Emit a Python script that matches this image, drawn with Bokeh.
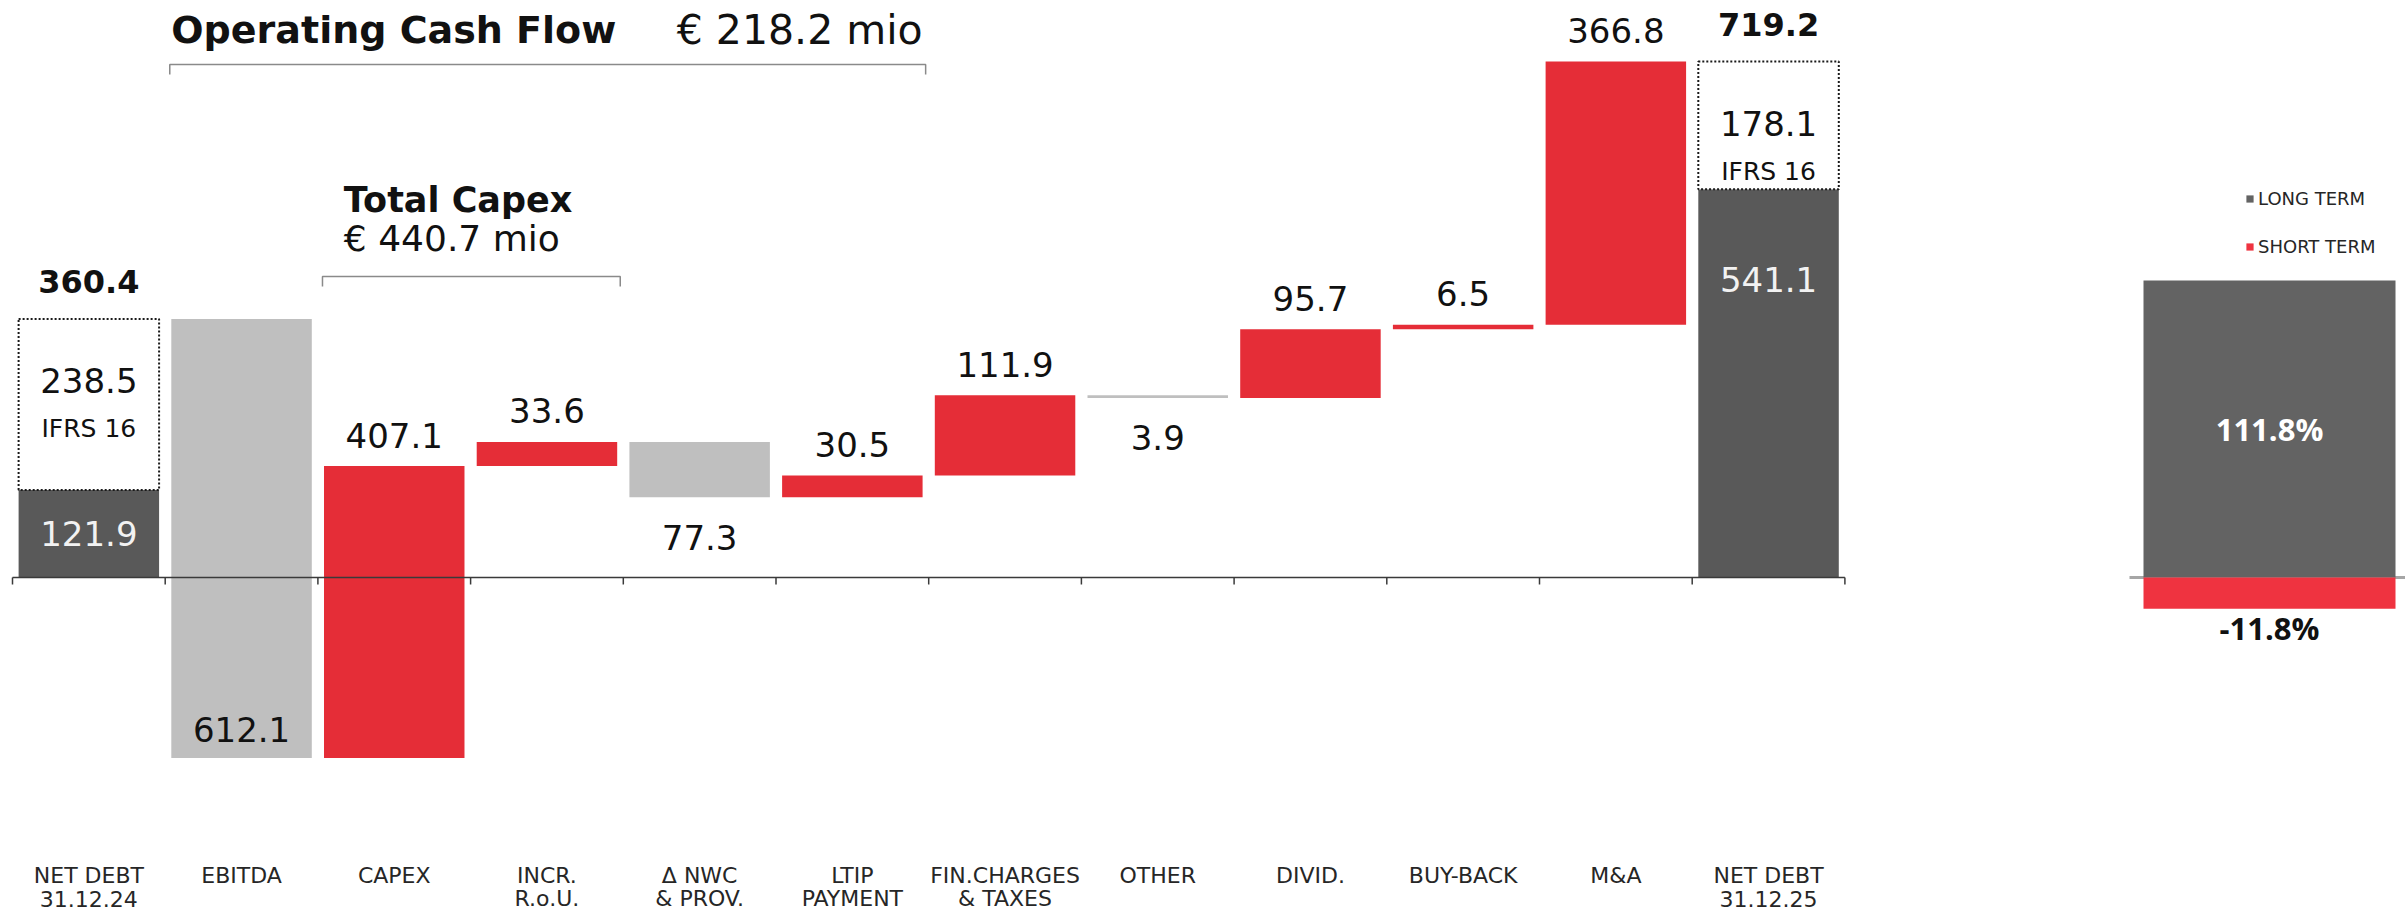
from bokeh.plotting import figure
from bokeh.models import ColumnDataSource, Range1d, Legend, LegendItem
from bokeh.layouts import row
from bokeh.core.properties import value
from bokeh.embed import file_html
from bokeh.resources import INLINE

# ---------------- data (€ mio) ----------------
label_line1 = ["NET DEBT", "EBITDA", "CAPEX", "INCR.", "\u0394 NWC", "LTIP",
               "FIN.CHARGES", "OTHER", "DIVID.", "BUY-BACK", "M&A", "NET DEBT"]
label_line2 = ["31.12.24", "", "", "R.o.U.", "& PROV.", "PAYMENT",
               "& TAXES", "", "", "", "", "31.12.25"]

# change in net debt for each bridge step (EBITDA .. M&A)
step_values = [-612.1, 407.1, 33.6, -77.3, 30.5, 111.9, -3.9, 95.7, 6.5, 366.8]

opening_net_debt = 121.9
opening_ifrs16 = 238.5
closing_net_debt = 541.1
closing_ifrs16 = 178.1

operating_cash_flow = 218.2
total_capex = 440.7

debt_split_labels = ["LONG TERM", "SHORT TERM"]
debt_split_pct = [111.8, -11.8]

# ---------------- colours / fonts ----------------
DARK = "#595959"
LIGHT = "#bfbfbf"
RED = "#e52d37"
DARK_R = "#636363"
RED_R = "#ef3340"
FONT_NAME = "DejaVu Sans"
FONT = value(FONT_NAME)
FONT_B = value("Open Sans")

# ---------------- geometry ----------------
H = 914
W_MAIN = 1890
W_SIDE = 2405 - W_MAIN
AXIS_PX = 577          # screen row of the zero line
X0_PX = 12             # left end of the category axis
CAT_PX = 152.7         # width of one category

opening_total = opening_net_debt + opening_ifrs16
closing_total = closing_net_debt + closing_ifrs16
S = (AXIS_PX - 61) / closing_total    # px per € mio


def py(pix):
    """screen row -> data y of the bridge chart"""
    return (AXIS_PX - pix) / S


def clean(fig):
    fig.outline_line_color = None
    fig.background_fill_color = "white"
    fig.border_fill_color = "white"
    fig.xgrid.visible = False
    fig.ygrid.visible = False
    fig.grid.grid_line_color = None


# waterfall levels
level = opening_total
bottoms, tops = [], []
for v in step_values:
    new = level + v
    bottoms.append(min(level, new))
    tops.append(max(level, new))
    level = new

n_cat = len(label_line1)
centers = [i + 0.5 for i in range(n_cat)]

p = figure(width=W_MAIN, height=H, output_backend="svg", toolbar_location=None,
           x_range=Range1d(-X0_PX / CAT_PX, (W_MAIN - X0_PX) / CAT_PX),
           y_range=Range1d(-(H - AXIS_PX) / S, AXIS_PX / S),
           x_axis_location=None, y_axis_location=None, min_border=0)
clean(p)

BW = 0.92

# opening / closing net debt
p.vbar(x=[centers[0], centers[-1]], width=BW, bottom=0,
       top=[opening_net_debt, closing_net_debt], fill_color=DARK, line_color=None)
p.vbar(x=[centers[0], centers[-1]], width=BW,
       bottom=[opening_net_debt, closing_net_debt],
       top=[opening_total, closing_total], fill_color="white",
       line_color="#1a1a1a", line_dash="2 2", line_width=2)

# bridge steps
step_src = ColumnDataSource(dict(
    x=centers[1:-1], bottom=bottoms, top=tops,
    color=[RED if v > 0 else LIGHT for v in step_values]))
p.vbar(x="x", width=BW, bottom="bottom", top="top", fill_color="color",
       line_color=None, source=step_src)

# zero line with category ticks
p.segment(x0=[0], y0=[0], x1=[n_cat], y1=[0], line_color="#3a3a3a", line_width=1.5)
tick_len = 7 / S
p.segment(x0=list(range(n_cat + 1)), y0=[0] * (n_cat + 1),
          x1=list(range(n_cat + 1)), y1=[-tick_len] * (n_cat + 1),
          line_color="#3a3a3a", line_width=1.5)

# value labels of the steps
above = dict(x=[], y=[], text=[])
below = dict(x=[], y=[], text=[])
inside = dict(x=[], y=[], text=[])
for i, v in enumerate(step_values):
    txt = f"{abs(v):.1f}"
    xc = centers[i + 1]
    if v > 0:
        tgt, yy = above, tops[i]
    elif bottoms[i] < 0:
        tgt, yy = inside, bottoms[i]
    else:
        tgt, yy = below, bottoms[i]
    tgt["x"].append(xc)
    tgt["y"].append(yy)
    tgt["text"].append(txt)

common = dict(text_font=FONT, text_font_size="34px", text_align="center",
              text_baseline="middle", text_color="#111111")
p.text(x="x", y="y", text="text", y_offset=-31, source=ColumnDataSource(above), **common)
p.text(x="x", y="y", text="text", y_offset=40, source=ColumnDataSource(below), **common)
p.text(x="x", y="y", text="text", y_offset=-29, source=ColumnDataSource(inside), **common)

# totals
p.text(x=[centers[0], centers[-1]], y=[opening_total, closing_total],
       text=[f"{opening_total:.1f}", f"{closing_total:.1f}"], y_offset=-37,
       text_font=FONT, text_font_style="bold", text_font_size="32px",
       text_align="center", text_baseline="middle", text_color="#111111")

# IFRS 16 parts
p.text(x=[centers[0], centers[-1]], y=[opening_total, closing_total],
       text=[f"{opening_ifrs16:.1f}", f"{closing_ifrs16:.1f}"], y_offset=62, **common)
p.text(x=[centers[0], centers[-1]], y=[opening_total, closing_total],
       text=["IFRS 16", "IFRS 16"], y_offset=110, text_font=FONT,
       text_font_size="25px", text_align="center", text_baseline="middle",
       text_color="#111111")

# net debt excluding IFRS 16 (white, inside the dark bars)
for val, xc in ((opening_net_debt, centers[0]), (closing_net_debt, centers[-1])):
    p.text(x=[xc], y=[val], text=[f"{val:.1f}"], y_offset=min(90, val * S / 2),
           text_font=FONT, text_font_size="34px", text_align="center",
           text_baseline="middle", text_color="#f2f2f2")

# category labels
p.text(x=centers, y=[py(875)] * n_cat, text=label_line1, text_font=FONT,
       text_font_size="22px", text_align="center", text_baseline="middle",
       text_color="#262626")
p.text(x=centers, y=[py(898)] * n_cat, text=label_line2, text_font=FONT,
       text_font_size="22px", text_align="center", text_baseline="middle",
       text_color="#262626")

# brackets: operating cash flow (EBITDA..LTIP) and total capex (CAPEX..INCR.)
def bracket(first, last, line_px):
    xl, xr = first + 0.03, last + 0.98
    yl, yt = py(line_px), py(line_px + 10)
    return [xl, xl, xr, xr], [yt, yl, yl, yt]

bx1, by1 = bracket(1, 5, 64)
bx2, by2 = bracket(2, 3, 276)
p.multi_line(xs=[bx1, bx2], ys=[by1, by2], line_color="#8a8a8a", line_width=1.5)

p.text(x=[1.04], y=[py(29)], text=["Operating Cash Flow"], text_font=FONT,
       text_font_style="bold", text_font_size="38px", text_baseline="middle",
       text_color="#111111")
p.text(x=[4.35], y=[py(29)], text=[f"\u20ac {operating_cash_flow:.1f} mio"],
       text_font=FONT, text_font_size="41px", text_baseline="middle",
       text_color="#111111")
p.text(x=[2.17], y=[py(199)], text=["Total Capex"], text_font=FONT,
       text_font_style="bold", text_font_size="35px", text_baseline="middle",
       text_color="#111111")
p.text(x=[2.17], y=[py(238)], text=[f"\u20ac {total_capex:.1f} mio"],
       text_font=FONT, text_font_size="36px", text_baseline="middle",
       text_color="#111111")

# ---------------- debt maturity split ----------------
SIDE_AXIS_PX = AXIS_PX
SS = (SIDE_AXIS_PX - 280) / debt_split_pct[0]
BAR_L, BAR_PX = 253, 252
q = figure(width=W_SIDE, height=H, output_backend="svg", toolbar_location=None,
           x_range=Range1d(-BAR_L / BAR_PX, (W_SIDE - BAR_L) / BAR_PX),
           y_range=Range1d(-(H - SIDE_AXIS_PX) / SS, SIDE_AXIS_PX / SS),
           x_axis_location=None, y_axis_location=None, min_border=0)
clean(q)

q.segment(x0=[-14 / BAR_PX], y0=[0], x1=[(W_SIDE - BAR_L) / BAR_PX], y1=[0],
          line_color="#a6a6a6", line_width=3)
r_long = q.vbar(x=[0.5], width=1.0, bottom=0, top=[debt_split_pct[0]],
                fill_color=DARK_R, line_color=None)
r_short = q.vbar(x=[0.5], width=1.0, bottom=[debt_split_pct[1]], top=0,
                 fill_color=RED_R, line_color=None)

q.text(x=[0.5], y=[debt_split_pct[0] / 2], text=[f"{debt_split_pct[0]:.1f}%"],
       text_font=FONT_B, text_font_style="bold", text_font_size="31px",
       text_align="center", text_baseline="middle", text_color="white")
q.text(x=[0.5], y=[debt_split_pct[1]], text=[f"{debt_split_pct[1]:.1f}%"],
       y_offset=19, text_font=FONT_B, text_font_style="bold", text_font_size="31px",
       text_align="center", text_baseline="middle", text_color="#111111")

legend = Legend(items=[LegendItem(label=debt_split_labels[0], renderers=[r_long]),
                       LegendItem(label=debt_split_labels[1], renderers=[r_short])],
                location=(355, 657), glyph_width=9, glyph_height=9, label_standoff=4,
                label_text_font=FONT_NAME, label_text_font_size="18px",
                label_text_color="#262626", spacing=27, padding=0, margin=0,
                border_line_color=None, background_fill_alpha=0)
q.add_layout(legend)

layout = row(p, q, spacing=0)
open("out.html", "w").write(file_html(layout, INLINE))
